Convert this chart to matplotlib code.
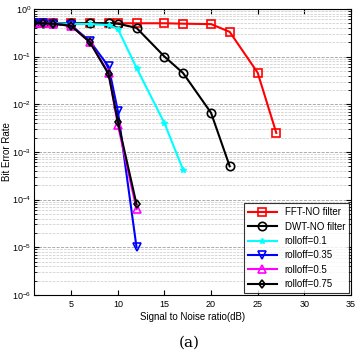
import matplotlib.pyplot as plt
import numpy as np

plt.rcParams['font.family'] = ['Liberation Sans', 'DejaVu Sans']

# SNR values (dB)
snr = [1, 2, 3, 5, 7, 9, 10, 12, 15, 17, 20, 22, 25, 27]

# bit error rates
ber_fft = [0.5, 0.5, 0.5, 0.5, 0.5, 0.5, 0.5, 0.5, 0.5, 0.49, 0.48, 0.33, 0.046, 0.0025]
ber_dwt = [0.5, 0.5, 0.5, 0.5, 0.5, 0.5, 0.49, 0.4, 0.1, 0.045, 0.0066, 0.0005]
ber_r010 = [0.5, 0.5, 0.5, 0.49, 0.48, 0.46, 0.38, 0.058, 0.004, 0.00042]
ber_r035 = [0.5, 0.5, 0.49, 0.45, 0.21, 0.062, 0.0072, 0.00001]
ber_r050 = [0.5, 0.5, 0.49, 0.44, 0.2, 0.045, 0.0037, 0.000063]
ber_r075 = [0.5, 0.5, 0.49, 0.44, 0.2, 0.043, 0.0043, 0.00008]

labels = ['FFT-NO filter', 'DWT-NO filter', 'rolloff=0.1',
          'rolloff=0.35', 'rolloff=0.5', 'rolloff=0.75']

fig = plt.figure(figsize=(3.58, 3.57), dpi=100)
ax = fig.add_axes([0.095, 0.174, 0.885, 0.801])

ax.semilogy(snr[:len(ber_fft)], ber_fft, 's-', color='red', lw=1.5, ms=6,
            mfc='none', mew=1.2, label=labels[0])
ax.semilogy(snr[:len(ber_dwt)], ber_dwt, 'o-', color='black', lw=1.5, ms=6,
            mfc='none', mew=1.2, label=labels[1])
ax.semilogy(snr[:len(ber_r010)], ber_r010, '*-', color='cyan', lw=1.5, ms=4,
            label=labels[2])
ax.semilogy(snr[:len(ber_r035)], ber_r035, 'v-', color='blue', lw=1.5, ms=5.5,
            mfc='none', mew=1.2, label=labels[3])
ax.semilogy(snr[:len(ber_r050)], ber_r050, '^-', color='magenta', lw=1.5, ms=5.5,
            mfc='none', mew=1.2, label=labels[4])
ax.semilogy(snr[:len(ber_r075)], ber_r075, 'd-', color='black', lw=1.5, ms=4.5,
            mfc='none', mew=1.2, label=labels[5])

ax.set_xlim(1, 35)
ax.set_ylim(1e-6, 1)
ax.set_xticks([5, 10, 15, 20, 25, 30, 35])
ax.tick_params(which='both', direction='in', top=True, right=True, labelsize=6.5)
ax.tick_params(axis='y', pad=2)
ax.yaxis.grid(True, which='major', linestyle='--', color='#a0a0a0', lw=0.6)
ax.yaxis.grid(True, which='minor', linestyle='--', color='#c8c8c8', lw=0.5)

ax.set_xlabel('Signal to Noise ratio(dB)', fontsize=7, labelpad=2)
ax.set_ylabel('Bit Error Rate', fontsize=7)
ax.yaxis.set_label_coords(-0.07, 0.5)

leg = ax.legend(loc='lower right', fontsize=7, frameon=True, fancybox=False,
                edgecolor='black', borderaxespad=0.2, handlelength=3,
                labelspacing=0.45)
leg.get_frame().set_linewidth(0.8)

fig.text(0.53, 0.03, '(a)', ha='center', fontsize=11, family='DejaVu Serif')

fig.savefig('out.png', dpi=100)
